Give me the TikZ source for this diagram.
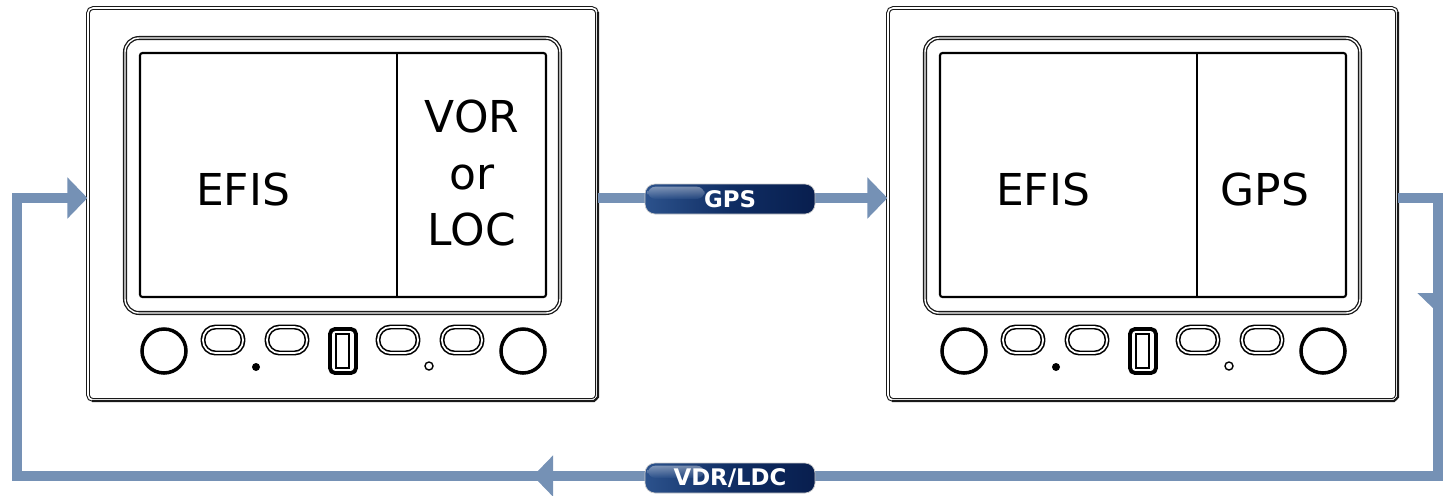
\documentclass[tikz,border=0pt]{standalone}
\usepackage{fontspec}
\setmainfont{DejaVu Sans}
\usetikzlibrary{arrows.meta,calc}

\definecolor{flowblue}{RGB}{117,145,181}
\definecolor{tagleft}{RGB}{44,82,140}
\definecolor{tagmid}{RGB}{16,46,100}
\definecolor{tagright}{RGB}{8,30,78}
\definecolor{edge}{RGB}{25,25,25}

\tikzset{
  flow/.style={draw=flowblue, line width=2mm},
  tip/.style={-{Triangle[length=4mm,width=8mm]}},
  tag/.style={rounded corners=2mm, minimum width=34mm, minimum height=6mm, inner sep=0pt,
    left color=tagleft, right color=tagright, middle color=tagmid, draw=gray!40, line width=0.4pt},
  tagtext/.style={text=white, font=\fontsize{13}{13}\bfseries\selectfont},
  gloss/.style={rounded corners=1.6mm, top color=white, bottom color=tagleft, opacity=0.4},
  panel/.style={draw=edge, double=white, double distance=0.9pt, line width=0.6pt,
    rounded corners=1mm, minimum width=101.8mm, minimum height=78.4mm},
  bezel/.style={draw=edge, double=white, double distance=0.8pt, line width=0.75pt, rounded corners=2.8mm},
  screen/.style={draw=black, line width=1.2pt, rounded corners=0.5mm},
  knob/.style={draw=black, line width=2pt},
  key/.style={draw=black, double=white, double distance=1pt, line width=0.9pt, rounded corners=2.5mm},
  readout/.style={font=\fontsize{25}{32}\selectfont, align=center}
}

% one display unit: #1 node name, #2 horizontal offset
\newcommand{\displayunit}[2]{%
\begin{scope}[shift={(#2,0)}]
  \node[panel] (#1) at (342.5,204) {};
  \draw[edge, line width=1.2pt] (92,401) -- (594,401) -- (598,397) -- (598,12);
  \draw[bezel] (125,38) rectangle (560,313);
  \draw[screen] (140,53) rectangle (546,297);
  \draw[line width=0.6pt] (397,53) -- (397,297);
  \draw[knob] (164,351) circle (22);
  \draw[knob] (523,351) circle (22);
  \foreach \kx in {223,287,398,462}
    \draw[key] (\kx-20,327) rectangle (\kx+20,353);
  \draw[line width=2.2pt, rounded corners=1mm] (330,329) rectangle (356,373);
  \draw[line width=0.6pt] (336,334) rectangle (349,368);
  \fill (256,367) circle (4);
  \draw[line width=0.8pt] (429,366) circle (4);
\end{scope}}

\begin{document}
\begin{tikzpicture}[x=0.2mm, y=-0.2mm]
\useasboundingbox (0,0) rectangle (1443,495);

\displayunit{panelL}{0}
\displayunit{panelR}{800}

\node[readout] (efisL) at (243,189) {EFIS};
\node[readout] (navL) at (472,173) {VOR\\or\\LOC};
\node[readout] (efisR) at (1043,189) {EFIS};
\node[readout] (gpsR) at (1265,189) {GPS};

% signal loop
\coordinate (ne) at (1438,198);
\coordinate (se) at (1438,476);
\coordinate (sw) at (17,476);
\coordinate (nw) at (17,198);

\draw[flow,tip] ($(panelL.east)+(0,-6)$) -- ($(panelR.west)+(0,-6)$);
\draw[flow,tip] ($(panelR.east)+(0,-6)$) -- (ne) -- (se) -- (sw) -- (nw) -- ($(panelL.west)+(0,-6)$);
\draw[flow,tip] (ne) -- (1438,313);
\draw[flow,tip] (se) -- (533,476);

% labels on the lines
\node[tag] (gpsTag) at (730,199) {};
\shade[gloss] ($(gpsTag.north west)+(3,3)$) rectangle ($(gpsTag.west)+(60,0)$);
\node[tagtext] at (gpsTag) {GPS};
\node[tag] (navTag) at (730,478) {};
\shade[gloss] ($(navTag.north west)+(3,3)$) rectangle ($(navTag.west)+(60,0)$);
\node[tagtext] at (navTag) {VDR/LDC};
\end{tikzpicture}
\end{document}
